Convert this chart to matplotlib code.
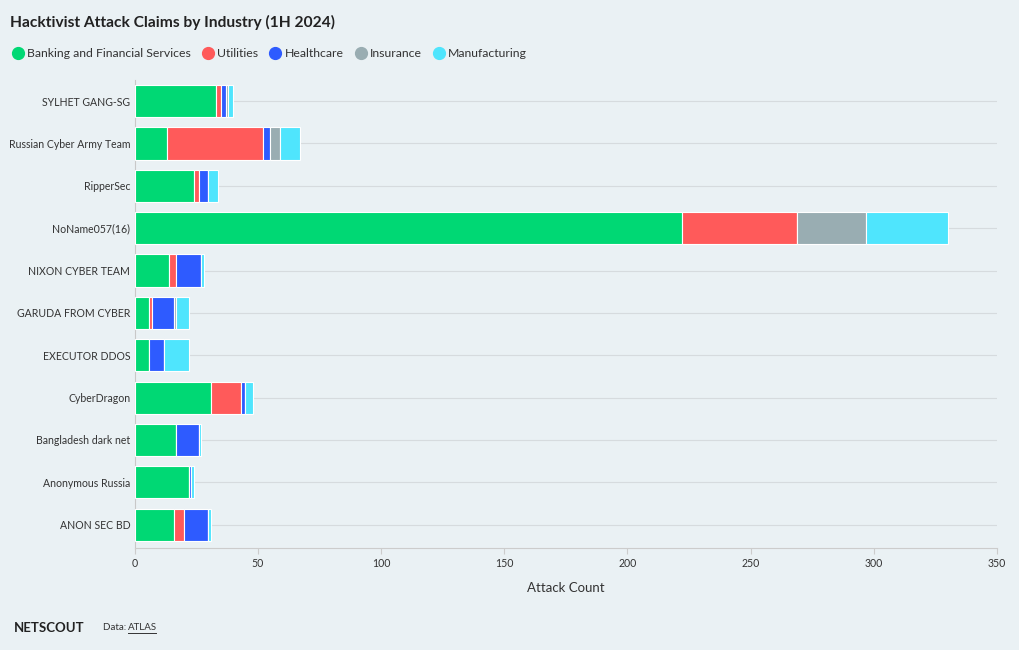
import numpy as np
import matplotlib.pyplot as plt
from matplotlib.lines import Line2D

# ------------------------------------------------------------------
# Data
# ------------------------------------------------------------------
groups = [
    "SYLHET GANG-SG", "Russian Cyber Army Team", "RipperSec", "NoName057(16)",
    "NIXON CYBER TEAM", "GARUDA FROM CYBER", "EXECUTOR DDOS", "CyberDragon",
    "Bangladesh dark net", "Anonymous Russia", "ANON SEC BD",
]
industries = ["Banking and Financial Services", "Utilities", "Healthcare",
              "Insurance", "Manufacturing"]

banking       = [33, 13, 24, 222, 14, 6, 6, 31, 17, 22, 16]
utilities     = [2, 39, 2, 47, 3, 1, 0, 12, 0, 0, 4]
healthcare    = [2, 3, 4, 0, 10, 9, 6, 2, 9, 1, 10]
insurance     = [1, 4, 0, 28, 0, 1, 0, 0, 0, 0, 0]
manufacturing = [2, 8, 4, 33, 1, 5, 10, 3, 1, 1, 1]

colors = ["#00d874", "#ff5a5a", "#2e5bff", "#99adb2", "#4fe5fd"]
BG = "#eaf1f4"

plt.rcParams['font.family'] = ['Lato', 'DejaVu Sans']

fig = plt.figure(figsize=(10.2, 6.5), dpi=100, facecolor=BG)
ax = fig.add_axes([0.1319, 0.157, 0.8456, 0.72])
ax.set_facecolor(BG)

y = np.arange(len(groups))
left = np.zeros(len(groups))
for vals, col, name in zip([banking, utilities, healthcare, insurance, manufacturing],
                           colors, industries):
    vals = np.array(vals, dtype=float)
    ax.barh(y, vals, left=left, height=0.76, color=col, edgecolor="white",
            linewidth=0.8, zorder=3, label=name)
    left += vals

ax.set_ylim(len(groups) - 0.45, -0.5)
ax.set_xlim(0, 350)
ax.set_yticks(y)
ax.set_yticklabels(groups, fontsize=7.6, color="#333333")
ax.set_xticks(np.arange(0, 351, 50))
ax.tick_params(axis='x', labelsize=7.6, colors="#333333", length=4, color="#cccccc")
ax.tick_params(axis='y', length=0, pad=3)

for g in y:
    ax.axhline(g, color="#d6dbde", linewidth=0.8, zorder=1)

for s in ["top", "right"]:
    ax.spines[s].set_visible(False)
ax.spines["left"].set_color("#c8c8c8")
ax.spines["bottom"].set_color("#cccccc")

ax.set_xlabel("Attack Count", fontsize=9.5, color="#333333", labelpad=9)

# title
fig.text(0.0098, 0.966, "Hacktivist Attack Claims by Industry (1H 2024)",
         fontsize=11.2, fontweight="bold", color="#222222", va="center")

# legend
handles = [Line2D([0], [0], marker="o", linestyle="", markersize=8.5,
                  markerfacecolor=c, markeredgecolor=c) for c in colors]
fig.legend(handles, industries, loc="center left", bbox_to_anchor=(0.002, 0.918),
           ncol=5, frameon=False, fontsize=8.8, handlelength=0.8,
           handletextpad=0.35, columnspacing=1.0, labelcolor="#333333")

# footer
fig.text(0.014, 0.034, "NETSCOUT", fontsize=9.5, fontweight="bold",
         color="#222222", va="center")
fig.text(0.101, 0.035, "Data: ", fontsize=7, color="#333333", va="center")
t = fig.text(0.1255, 0.035, "ATLAS", fontsize=7, color="#333333", va="center")
fig.add_artist(Line2D([0.1255, 0.1525], [0.026, 0.026], color="#333333",
                      linewidth=0.7, transform=fig.transFigure))

fig.savefig("out.png", dpi=100, facecolor=BG)
